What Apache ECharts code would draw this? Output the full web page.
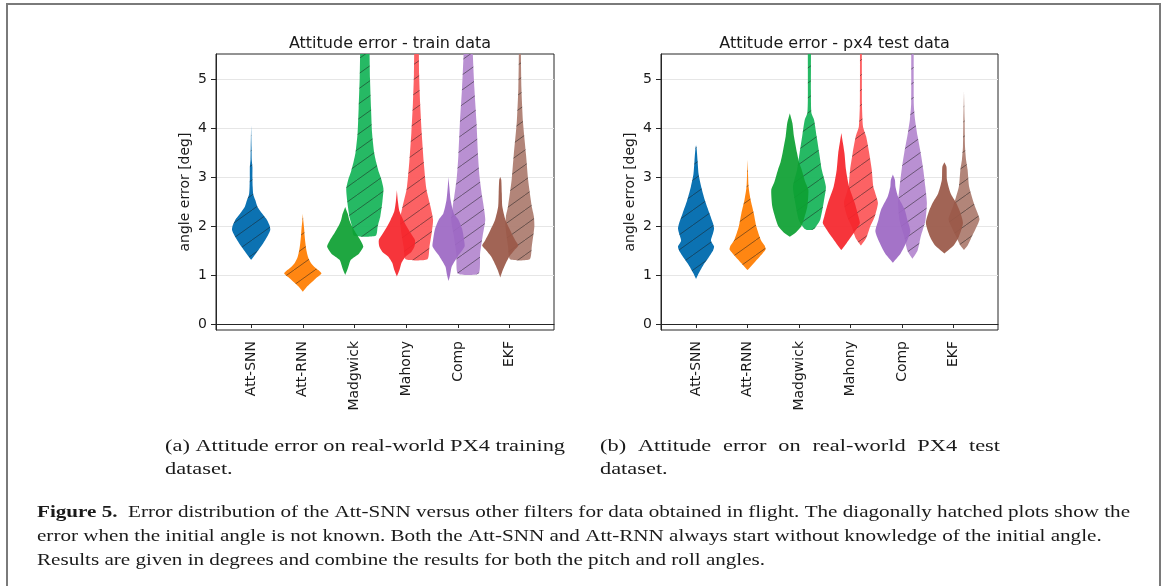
<!DOCTYPE html>
<html><head><meta charset="utf-8">
<script src="https://cdn.jsdelivr.net/npm/echarts@6/dist/echarts.min.js"></script>
<style>html,body{margin:0;padding:0;background:#fff;}#chart{width:1165px;height:586px;}</style>
</head><body><div id="chart"></div>
<script>
// ---------- data ----------
const categories = ['Att-SNN', 'Att-RNN', 'Madgwick', 'Mahony', 'Comp', 'EKF'];
const xTickValues = [1, 2, 3, 4, 5, 6];
const yTickValues = [0, 1, 2, 3, 4, 5];
const panelTitles = ['Attitude error - train data', 'Attitude error - px4 test data'];
const yAxisName = 'angle error [deg]';

// violin profiles: [angle error (deg), half width (x units)]
// train data
const trainSNN = [[1.31,0],[1.38,0.05],[1.45,0.1],[1.58,0.19],[1.71,0.27],[1.82,0.33],[1.92,0.37],[2.0,0.36],[2.12,0.31],[2.26,0.21],[2.4,0.12],[2.53,0.08],[2.65,0.04],[2.8,0.03],[3.0,0.025],[3.2,0.025],[3.35,0.012],[3.6,0.008],[4.05,0]];
const trainRNN = [[0.66,0],[0.75,0.07],[0.83,0.15],[0.93,0.25],[1.03,0.36],[1.1,0.3],[1.17,0.22],[1.24,0.16],[1.37,0.1],[1.5,0.07],[1.65,0.05],[1.8,0.035],[1.95,0.025],[2.1,0.01],[2.25,0]];
const trainMadgwickKnown = [[1.0,0],[1.1,0.04],[1.2,0.07],[1.31,0.11],[1.44,0.27],[1.58,0.35],[1.7,0.3],[1.85,0.21],[2.0,0.13],[2.12,0.08],[2.25,0.05],[2.39,0]];
const trainMadgwickUnknown = [[1.8,0.21],[2.0,0.25],[2.2,0.3],[2.5,0.34],[2.76,0.36],[2.95,0.32],[3.1,0.27],[3.3,0.22],[3.5,0.18],[3.9,0.14],[4.4,0.12],[5.0,0.1],[5.6,0.09],[6.5,0.08]];
const trainMahonyKnown = [[0.97,0],[1.1,0.05],[1.25,0.09],[1.38,0.17],[1.47,0.28],[1.58,0.34],[1.71,0.35],[1.85,0.27],[1.99,0.19],[2.13,0.12],[2.3,0.05],[2.5,0.02],[2.73,0]];
const trainMahonyUnknown = [[1.32,0.21],[1.58,0.25],[1.9,0.3],[2.13,0.32],[2.4,0.27],[2.76,0.19],[3.3,0.14],[3.9,0.1],[4.5,0.07],[5.1,0.05],[5.6,0.045],[6.5,0.04]];
const trainCompKnown = [[0.88,0],[1.0,0.03],[1.17,0.06],[1.37,0.17],[1.58,0.31],[1.71,0.3],[1.85,0.28],[1.95,0.26],[2.13,0.19],[2.26,0.1],[2.53,0.04],[2.8,0.015],[3.0,0]];
const trainCompUnknown = [[1.03,0.2],[1.44,0.23],[1.8,0.28],[2.13,0.33],[2.4,0.3],[2.6,0.27],[3.0,0.22],[3.44,0.19],[4.12,0.16],[4.8,0.12],[5.5,0.09],[6.5,0.07]];
const trainEKFKnown = [[0.95,0],[1.1,0.05],[1.2,0.09],[1.37,0.17],[1.5,0.27],[1.6,0.35],[1.71,0.29],[1.92,0.19],[2.13,0.1],[2.4,0.04],[2.67,0.03],[2.94,0.02],[3.0,0]];
const trainEKFUnknown = [[1.32,0.19],[1.58,0.23],[1.99,0.28],[2.2,0.27],[2.4,0.23],[2.94,0.16],[3.44,0.12],[4.12,0.06],[4.8,0.03],[5.5,0.02],[6.5,0.015]];
// px4 test data
const testSNN = [[0.92,0],[1.05,0.06],[1.2,0.14],[1.35,0.24],[1.5,0.33],[1.58,0.35],[1.7,0.29],[1.85,0.33],[1.95,0.35],[2.05,0.33],[2.26,0.26],[2.53,0.17],[2.8,0.1],[3.06,0.05],[3.33,0.03],[3.6,0.01],[3.65,0]];
const testRNN = [[1.1,0],[1.24,0.12],[1.44,0.29],[1.52,0.35],[1.6,0.33],[1.71,0.26],[1.99,0.17],[2.26,0.12],[2.53,0.06],[2.8,0.02],[3.1,0.008],[3.35,0]];
const testMadgwickKnown = [[1.78,0],[1.85,0.1],[1.99,0.22],[2.13,0.27],[2.4,0.34],[2.74,0.36],[2.9,0.3],[3.15,0.23],[3.3,0.18],[3.49,0.14],[3.83,0.08],[4.1,0.05],[4.3,0]];
const testMadgwickUnknown = [[1.92,0.05],[1.95,0.1],[2.13,0.21],[2.5,0.28],[2.8,0.32],[3.15,0.24],[3.49,0.19],[3.83,0.14],[4.17,0.09],[4.3,0.04],[4.6,0.03],[5.2,0.03],[6.5,0.025]];
const testMahonyKnown = [[1.51,0],[1.65,0.1],[1.78,0.19],[1.95,0.3],[2.06,0.36],[2.2,0.33],[2.47,0.26],[2.8,0.15],[3.15,0.09],[3.49,0.06],[3.7,0.03],[3.9,0]];
const testMahonyUnknown = [[1.6,0],[1.75,0.1],[1.99,0.18],[2.2,0.27],[2.47,0.33],[2.7,0.27],[2.8,0.24],[3.15,0.21],[3.49,0.16],[3.83,0.1],[4.03,0.04],[4.5,0.02],[6.5,0.015]];
const testCompKnown = [[1.25,0],[1.44,0.15],[1.71,0.28],[1.9,0.34],[2.13,0.28],[2.33,0.23],[2.6,0.1],[2.8,0.05],[2.94,0.04],[3.05,0]];
const testCompUnknown = [[1.33,0],[1.5,0.1],[1.78,0.16],[2.1,0.25],[2.47,0.28],[2.8,0.25],[3.15,0.21],[3.49,0.16],[3.83,0.1],[4.17,0.05],[4.5,0.025],[6.5,0.02]];
const testEKFKnown = [[1.44,0],[1.6,0.18],[1.78,0.28],[2.06,0.36],[2.3,0.3],[2.47,0.23],[2.67,0.12],[2.94,0.05],[3.21,0.04],[3.3,0]];
const testEKFUnknown = [[1.51,0],[1.6,0.07],[1.78,0.15],[2.13,0.3],[2.3,0.25],[2.47,0.19],[2.8,0.1],[3.15,0.07],[3.35,0.04],[3.62,0.02],[4.17,0.012],[4.75,0]];

const solidColors = ['#0c72b2', '#ff8612', '#0ea033', '#f5262c', '#9d68c4', '#9a5848'];
const hatchColors = ['#0c72b2', '#ff8612', '#1ab55c', '#fc5a5c', '#b58ad0', '#ae7e72'];

const subcaptionA = ['(a) Attitude error on real-world PX4 training', 'dataset.'];
const subcaptionB = ['(b) Attitude error on real-world PX4 test', 'dataset.'];
const captionLabel = 'Figure 5.';
const captionLines = [
  'Error distribution of the Att-SNN versus other filters for data obtained in flight. The diagonally hatched plots show the',
  'error when the initial angle is not known. Both the Att-SNN and Att-RNN always start without knowledge of the initial angle.',
  'Results are given in degrees and combine the results for both the pitch and roll angles.'
];

// ---------- build ----------
const panelSolid = [
  [null, null, trainMadgwickKnown, trainMahonyKnown, trainCompKnown, trainEKFKnown],
  [null, null, testMadgwickKnown, testMahonyKnown, testCompKnown, testEKFKnown]
];
const panelHatched = [
  [trainSNN, trainRNN, trainMadgwickUnknown, trainMahonyUnknown, trainCompUnknown, trainEKFUnknown],
  [testSNN, testRNN, testMadgwickUnknown, testMahonyUnknown, testCompUnknown, testEKFUnknown]
];
const SOLID_SHIFT = -0.18, HATCH_SHIFT = 0.2;

const HW = 21, HH = 15;
const hatchCanvas = document.createElement('canvas');
hatchCanvas.width = HW; hatchCanvas.height = HH;
(function () {
  const c = hatchCanvas.getContext('2d');
  c.strokeStyle = 'rgba(30,30,30,0.5)';
  c.lineWidth = 1;
  c.beginPath();
  for (let k = -1; k <= 1; k++) {
    c.moveTo(k * HW, HH); c.lineTo(k * HW + HW, 0);
  }
  c.stroke();
})();

function violin(panel, pos, profile, color, opacity, hatch) {
  return {
    type: 'custom', xAxisIndex: panel, yAxisIndex: panel, clip: true, silent: true,
    data: profile.map(p => [pos, p[0], p[1]]),
    encode: { x: 0, y: 1 },
    renderItem: function (params, api) {
      if (params.dataIndex !== 0) return null;
      const right = profile.map(p => api.coord([pos + p[1], p[0]]));
      const left = profile.map(p => api.coord([pos - p[1], p[0]])).reverse();
      const pts = right.concat(left);
      const children = [{ type: 'polygon', shape: { points: pts, smooth: 0.2 }, style: { fill: color, opacity: opacity } }];
      if (hatch) children.push({ type: 'polygon', shape: { points: pts, smooth: 0.2 }, style: { fill: { image: hatchCanvas, repeat: 'repeat' } } });
      return { type: 'group', children: children };
    }
  };
}

const series = [];
for (let p = 0; p < 2; p++) {
  panelHatched[p].forEach((prof, i) => {
    const pos = xTickValues[i] + (panelSolid[p][i] ? HATCH_SHIFT : 0);
    series.push(violin(p, pos, prof, hatchColors[i], panelSolid[p][i] ? 0.95 : 1, true));
  });
  panelSolid[p].forEach((prof, i) => {
    if (!prof) return;
    series.push(violin(p, xTickValues[i] + SOLID_SHIFT, prof, solidColors[i], 0.93, false));
  });
}

const grids = [
  { left: 216, top: 54, width: 338, height: 276 },
  { left: 661, top: 54, width: 337, height: 276 }
].map(g => Object.assign(g, { show: true, borderColor: '#262626', borderWidth: 1, backgroundColor: 'transparent' }));

const sans = 'DejaVu Sans';
const xAxes = grids.map((g, i) => ({
  type: 'value', gridIndex: i, min: 0.32, max: 6.86,
  axisLine: { show: true, lineStyle: { color: '#262626', width: 1 } },
  axisTick: { show: true, customValues: xTickValues, length: 4, lineStyle: { color: '#262626' } },
  axisLabel: { customValues: xTickValues, rotate: 90, margin: 11, fontFamily: sans, fontSize: 14, color: '#1a1a1a',
    formatter: v => categories[Math.round(v) - 1] || '' },
  splitLine: { show: false }
}));
const yAxes = grids.map((g, i) => ({
  type: 'value', gridIndex: i, min: -0.122, max: 5.51,
  name: yAxisName, nameLocation: 'middle', nameGap: 24, nameRotate: 90,
  nameTextStyle: { fontFamily: sans, fontSize: 14, color: '#1a1a1a' },
  axisLine: { show: true, lineStyle: { color: '#262626', width: 1 } },
  axisTick: { show: true, customValues: yTickValues, length: 5, lineStyle: { color: '#262626' } },
  axisLabel: { customValues: yTickValues, margin: 9, fontFamily: sans, fontSize: 14, color: '#1a1a1a' },
  splitLine: { show: true, lineStyle: { color: '#e6e6e6', width: 1 } }
}));

// ---------- captions ----------
const mctx = document.createElement('canvas').getContext('2d');
function tw(str, font) { mctx.font = font; return mctx.measureText(str).width; }
const subFont = '16px "Liberation Serif"';
const capFont = '17px "Liberation Serif"';
const capBold = 'bold 17px "Liberation Serif"';
const graphics = [];
function txt(str, x, y, font, sx) {
  graphics.push({ type: 'text', x: x, y: y, scaleX: sx, silent: true,
    style: { text: str, font: font, fill: '#1a1a1a', verticalAlign: 'middle', textVerticalAlign: 'middle', align: 'left' } });
}
// frame
graphics.push({ type: 'rect', shape: { x: 7, y: 4, width: 1153, height: 620 }, silent: true,
  style: { fill: 'none', stroke: '#7a7a7a', lineWidth: 2 } });
// subcaption a
const subScale = 400 / tw(subcaptionA[0], subFont);
txt(subcaptionA[0], 165, 447, subFont, subScale);
txt(subcaptionA[1], 165, 470, subFont, subScale);
// subcaption b, justified
(function () {
  const words = subcaptionB[0].split(' ');
  const ws = words.map(w => tw(w, subFont) * subScale);
  const gap = (400 - ws.reduce((a, b) => a + b, 0)) / (words.length - 1);
  let x = 600;
  words.forEach((w, k) => { txt(w, x, 447, subFont, subScale); x += ws[k] + gap; });
  txt(subcaptionB[1], 600, 470, subFont, subScale);
})();
// figure caption
(function () {
  const lw = tw(captionLabel, capBold), rest = tw('  ' + captionLines[0], capFont);
  const s = (1130 - 37) / (lw + rest);
  graphics.push({ type: 'text', x: 37, y: 513, scaleX: s, silent: true,
    style: { text: captionLabel, font: capBold, fill: '#1a1a1a', verticalAlign: 'middle', textVerticalAlign: 'middle' } });
  txt('  ' + captionLines[0], 37 + lw * s, 513, capFont, s);
  txt(captionLines[1], 37, 537, capFont, s);
  txt(captionLines[2], 37, 561, capFont, s);
})();

const chart = echarts.init(document.getElementById('chart'), null, { renderer: 'canvas' });
chart.setOption({
  animation: false,
  backgroundColor: '#ffffff',
  title: panelTitles.map((t, i) => ({
    text: t, left: i === 0 ? 385 : 829.5, top: 31, textAlign: 'center',
    textStyle: { fontFamily: sans, fontSize: 16, fontWeight: 'normal', color: '#1a1a1a' }
  })),
  grid: grids, xAxis: xAxes, yAxis: yAxes,
  series: series,
  graphic: { elements: graphics }
});
</script></body></html>
